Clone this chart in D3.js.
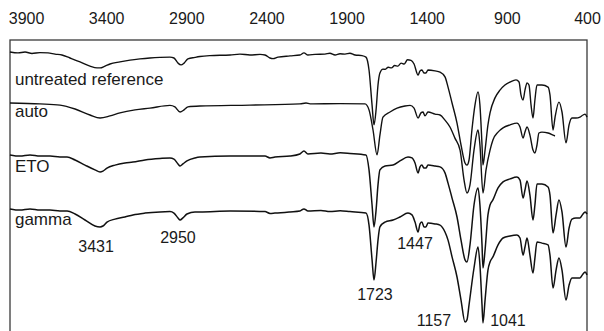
<!DOCTYPE html>
<html>
<head>
<meta charset="utf-8">
<script src="https://cdn.jsdelivr.net/npm/d3@7/dist/d3.min.js"></script>
<style>
  html, body { margin: 0; padding: 0; background: #fff; }
  svg { display: block; }
  text { font-family: "Liberation Sans", Arial, sans-serif; fill: #1a1a1a; }
</style>
</head>
<body>
<svg id="chart" width="604" height="331"></svg>
<script>
// ---- data (wavenumber cm^-1, transmittance a.u., traces stacked) ----
const tickLabels = [3900, 3400, 2900, 2400, 1900, 1400, 900, 400];

const seriesNames = ["untreated reference", "auto", "ETO", "gamma"];

const untreated = [
  [4000,96.0],[3950,95.7],[3906,96.0],[3863,95.5],[3813,95.8],[3763,95.7],[3719,95.3],[3676,95.0],
  [3626,94.0],[3563,92.7],[3501,91.3],[3457,90.7],[3438,90.7],[3407,91.3],[3376,92.0],[3314,92.7],
  [3251,93.3],[3189,93.7],[3127,94.0],[3064,94.2],[3002,94.3],[2977,94.0],[2952,92.3],[2933,91.7],
  [2914,92.3],[2890,93.7],[2846,94.2],[2815,94.5],[2752,94.8],[2627,95.0],[2565,95.3],[2503,95.0],
  [2440,95.2],[2409,95.0],[2378,94.0],[2359,93.8],[2328,94.3],[2253,94.7],[2191,95.0],[2166,95.7],
  [2141,95.0],[2097,95.2],[2035,95.3],[2004,95.6],[1972,95.0],[1941,95.4],[1910,95.3],[1879,95.6],
  [1847,95.0],[1804,94.8],[1779,94.3],[1760,90.0],[1741,78.3],[1729,71.7],[1716,76.7],[1704,85.0],
  [1692,89.0],[1673,90.3],[1660,90.2],[1640,90.9],[1620,90.7],[1600,91.5],[1580,91.3],[1560,92.3],
  [1540,92.0],[1520,93.4],[1498,93.2],[1479,92.0],[1454,88.3],[1442,89.7],[1430,90.0],[1417,89.0],
  [1405,89.0],[1392,90.0],[1348,89.7],[1317,89.3],[1286,87.7],[1267,84.3],[1242,79.0],[1211,72.3],
  [1186,65.0],[1161,59.0],[1149,58.3],[1136,60.0],[1118,70.0],[1099,78.3],[1080,82.7],[1068,78.3],
  [1055,65.0],[1049,58.3],[1036,63.3],[1018,71.7],[1005,75.7],[974,80.7],[943,83.3],[912,85.0],
  [880,86.0],[843,86.7],[824,86.0],[812,81.7],[799,80.0],[787,83.3],[774,85.7],[762,85.0],
  [749,78.3],[737,74.0],[725,80.0],[712,85.0],[681,85.0],[643,84.3],[631,81.7],[612,70.0],
  [600,74.0],[575,79.3],[556,76.0],[531,65.7],[512,71.7],[494,74.0],[469,74.0],[444,74.3],
  [425,75.0],[412,75.3],[400,74.3]
];

const auto = [
  [4000,79.0],[3813,78.7],[3688,78.3],[3594,77.0],[3501,75.0],[3438,74.0],[3376,74.7],[3314,75.7],
  [3220,76.7],[3127,77.3],[3002,78.2],[2971,77.7],[2939,76.0],[2914,76.7],[2890,77.7],[2815,78.0],
  [2503,78.3],[2191,78.7],[2153,79.0],[2128,78.7],[1941,78.8],[1785,78.7],[1760,76.7],[1735,70.0],
  [1710,61.7],[1692,68.3],[1673,74.3],[1629,76.0],[1585,77.3],[1536,78.0],[1504,78.2],[1479,77.3],
  [1454,74.0],[1436,75.7],[1423,76.0],[1411,74.7],[1392,76.0],[1348,75.3],[1317,75.0],[1286,73.3],
  [1255,71.0],[1224,67.3],[1192,63.3],[1167,53.3],[1149,49.0],[1130,51.7],[1105,63.3],[1080,70.0],
  [1068,65.0],[1049,49.0],[1030,56.7],[1005,63.3],[987,66.7],[955,69.3],[924,70.7],[880,71.7],
  [837,72.3],[818,71.0],[799,67.3],[787,69.3],[774,71.0],[756,68.3],[737,63.3],[725,62.3],
  [712,65.0],[700,69.0],[681,69.3],[643,69.0],[612,68.3],[600,68.0]
];

const eto = [
  [4000,61.7],[3938,61.3],[3875,61.7],[3813,61.3],[3750,61.3],[3688,61.0],[3644,61.0],[3594,60.0],
  [3532,58.3],[3470,56.7],[3438,56.0],[3420,56.3],[3395,57.3],[3345,58.3],[3283,59.0],[3233,59.3],
  [3158,60.0],[3064,60.5],[3002,60.7],[2977,60.3],[2952,58.7],[2939,58.0],[2921,58.7],[2896,59.7],
  [2846,60.7],[2815,61.0],[2627,61.3],[2409,61.3],[2378,60.7],[2347,61.0],[2253,61.3],[2191,62.0],
  [2166,63.0],[2141,62.0],[2060,62.3],[2004,62.0],[1940,62.4],[1879,62.2],[1779,61.7],[1760,56.7],
  [1741,45.0],[1729,37.7],[1716,43.3],[1704,51.7],[1692,56.7],[1660,58.0],[1610,58.3],[1567,59.7],
  [1517,61.0],[1492,60.7],[1473,59.0],[1454,55.7],[1442,57.7],[1430,58.3],[1417,57.3],[1405,57.3],
  [1392,58.3],[1348,58.0],[1317,57.7],[1286,55.7],[1267,52.3],[1242,47.3],[1211,41.0],[1186,33.3],
  [1161,26.7],[1149,26.0],[1130,31.7],[1105,45.0],[1080,50.7],[1068,45.0],[1055,31.7],[1049,24.0],
  [1036,30.0],[1018,41.7],[1005,45.0],[987,46.7],[955,50.7],[924,52.7],[880,53.7],[837,54.3],
  [818,53.3],[799,47.3],[787,50.0],[774,53.0],[756,48.3],[737,40.0],[725,45.0],[712,52.0],
  [681,52.0],[643,51.0],[631,48.3],[612,35.7],[593,41.7],[575,46.7],[556,42.7],[531,31.0],
  [512,37.3],[494,40.3],[469,40.7],[444,40.7],[425,42.0],[412,42.7],[400,42.0]
];

const gamma = [
  [4000,43.7],[3938,43.3],[3875,43.7],[3813,43.3],[3750,43.3],[3688,43.0],[3644,43.0],[3594,42.0],
  [3532,40.0],[3470,38.0],[3438,37.7],[3420,38.0],[3395,39.3],[3345,40.3],[3283,41.0],[3233,41.7],
  [3158,42.3],[3064,42.7],[3002,42.8],[2977,42.3],[2952,40.7],[2939,40.0],[2921,40.7],[2896,42.0],
  [2846,42.7],[2815,42.7],[2627,43.0],[2409,42.8],[2378,42.2],[2347,42.3],[2253,42.7],[2191,43.0],
  [2166,43.7],[2141,43.0],[2060,43.2],[2004,42.8],[1940,43.1],[1879,42.8],[1779,42.3],[1760,38.3],
  [1741,26.7],[1729,20.0],[1716,26.0],[1704,33.3],[1692,37.7],[1660,39.3],[1610,40.0],[1567,41.0],
  [1517,42.3],[1492,41.7],[1473,39.3],[1454,36.0],[1442,38.7],[1430,39.3],[1417,37.7],[1405,37.7],
  [1392,39.0],[1348,38.7],[1317,38.3],[1286,36.0],[1267,33.3],[1242,27.7],[1211,21.0],[1186,13.3],
  [1161,6.0],[1149,6.7],[1136,11.7],[1105,24.0],[1080,31.0],[1068,25.0],[1055,11.7],[1049,5.7],
  [1036,13.3],[1018,23.3],[1005,26.0],[987,27.7],[955,31.7],[924,34.0],[880,34.7],[837,35.0],
  [818,34.0],[799,28.3],[787,31.0],[774,34.0],[756,28.3],[737,22.3],[725,27.3],[712,32.7],
  [681,32.3],[643,31.7],[631,28.3],[612,17.3],[593,23.3],[575,27.3],[556,23.3],[531,13.3],
  [512,18.3],[494,20.7],[469,20.7],[444,20.7],[425,22.0],[412,22.7],[400,21.7]
];

// label anchors: [text, wavenumber, value]
const seriesLabelAnchors = [
  ["untreated reference", 3969, 85.0],
  ["auto", 3969, 74.3],
  ["ETO", 3969, 56.1],
  ["gamma", 3969, 38.2]
];
const peakLabels = [
  ["3431", 3463, 29.3],
  ["2950", 2952, 32.3],
  ["1723", 1723, 13.3],
  ["1447", 1473, 30.3],
  ["1157", 1355, 4.7],
  ["1041", 893, 4.7]
];

// ---- drawing ----
const svg = d3.select("#chart");
const plotL = 10, plotR = 587, plotT = 40, plotB = 340;

const x = d3.scaleLinear().domain([4000, 400]).range([plotL, plotR]);
const y = d3.scaleLinear().domain([0, 100]).range([plotB, plotT]);

const line = d3.line()
  .x(d => x(d[0]))
  .y(d => y(d[1]))
  .curve(d3.curveMonotoneX);

// top tick labels (no tick marks)
const axis = d3.axisTop(x).tickValues(tickLabels).tickSize(0).tickPadding(0).tickFormat(d3.format("d"));
const gAxis = svg.append("g").attr("transform", "translate(0,24)").call(axis);
gAxis.select(".domain").remove();
gAxis.selectAll("text")
  .attr("y", 0).attr("dy", 0)
  .style("font-size", "16px")
  .style("font-family", "'Liberation Sans', Arial, sans-serif")
  .attr("fill", "#1a1a1a");

// frame
svg.append("rect")
  .attr("x", plotL).attr("y", plotT)
  .attr("width", plotR - plotL).attr("height", plotB - plotT)
  .attr("fill", "none").attr("stroke", "#3a3a3a").attr("stroke-width", 1.3);

// traces
const all = [untreated, auto, eto, gamma];
const widths = [1.4, 1.4, 1.5, 1.5];
svg.append("g").selectAll("path")
  .data(all)
  .join("path")
  .attr("d", d => line(d))
  .attr("fill", "none")
  .attr("stroke", "#111")
  .attr("stroke-width", (d, i) => widths[i])
  .attr("stroke-linejoin", "round");

// series labels
svg.append("g").selectAll("text")
  .data(seriesLabelAnchors)
  .join("text")
  .attr("x", d => x(d[1]))
  .attr("y", d => y(d[2]))
  .style("font-size", "17px")
  .text(d => d[0]);

// peak labels
svg.append("g").selectAll("text")
  .data(peakLabels)
  .join("text")
  .attr("x", d => x(d[1]))
  .attr("y", d => y(d[2]))
  .attr("text-anchor", "middle")
  .style("font-size", "16px")
  .text(d => d[0]);
</script>
</body>
</html>
